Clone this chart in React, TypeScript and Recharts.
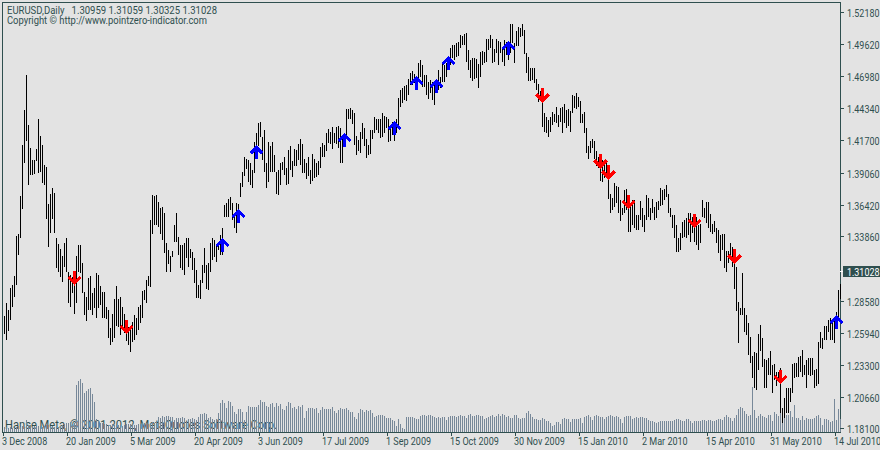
import React from "react";
import { ComposedChart, Bar, Line, XAxis, YAxis } from "recharts";

const FRAME = "#2F4F4F";
const BG = "#E3E3E3";
const VOL = "#778899";
const FONT = "Roboto, sans-serif";

// EURUSD daily, 3 Dec 2008 - 14 Jul 2010
const highs = [
  1.2741,1.2847,1.2790,1.2970,1.2995,1.3069,1.3396,1.3412,1.3724,1.4141,
  1.4428,1.4715,1.4305,1.4116,1.4019,1.4019,1.4108,1.4354,1.4215,1.4141,
  1.3978,1.3962,1.3658,1.3740,1.3789,1.3748,1.3379,1.3330,1.3289,1.3233,
  1.3338,1.3379,1.3102,1.3077,1.3061,1.3102,1.3233,1.3322,1.3322,1.3175,
  1.2938,1.2897,1.3052,1.3069,1.2929,1.2970,1.3093,1.3077,1.2987,1.2938,
  1.2938,1.2815,1.2790,1.2642,1.2757,1.2880,1.2987,1.2880,1.2897,1.2815,
  1.2757,1.2700,1.2651,1.2651,1.2692,1.2749,1.2724,1.2815,1.2831,1.2946,
  1.2954,1.3036,1.3069,1.3527,1.3732,1.3724,1.3732,1.3675,1.3625,1.3634,
  1.3584,1.3338,1.3282,1.3233,1.3274,1.3486,1.3584,1.3388,1.3322,1.3322,
  1.3338,1.3379,1.3379,1.3289,1.3266,1.3216,1.3118,1.2995,1.3036,1.3159,
  1.3298,1.3159,1.3175,1.3338,1.3379,1.3363,1.3322,1.3347,1.3404,1.3462,
  1.3650,1.3666,1.3699,1.3716,1.3666,1.3552,1.3666,1.3658,1.3830,1.3921,
  1.4043,1.4027,1.4019,1.3994,1.3937,1.4166,1.4239,1.4321,1.4330,1.4207,
  1.4264,1.3994,1.4166,1.4133,1.4166,1.4060,1.3921,1.3937,1.3994,1.4002,
  1.4043,1.3953,1.4101,1.4133,1.4011,1.4108,1.4101,1.4149,1.4190,1.4149,
  1.4027,1.3994,1.4043,1.3937,1.4068,1.4027,1.3994,1.4011,1.4125,1.4157,
  1.4141,1.4239,1.4272,1.4248,1.4289,1.4239,1.4289,1.4297,1.4280,1.4223,
  1.4239,1.4436,1.4436,1.4445,1.4428,1.4403,1.4215,1.4182,1.4248,1.4321,
  1.4280,1.4190,1.4141,1.4264,1.4264,1.4371,1.4354,1.4354,1.4354,1.4403,
  1.4379,1.4371,1.4354,1.4297,1.4330,1.4297,1.4354,1.4526,1.4592,1.4608,
  1.4625,1.4633,1.4682,1.4731,1.4748,1.4723,1.4707,1.4813,1.4838,1.4797,
  1.4715,1.4715,1.4658,1.4674,1.4658,1.4633,1.4674,1.4756,1.4699,1.4805,
  1.4797,1.4813,1.4862,1.4936,1.4961,1.4961,1.4977,1.4985,1.5042,1.5034,
  1.5050,1.5059,1.4920,1.4838,1.4854,1.4854,1.4846,1.4805,1.4903,1.4911,
  1.4903,1.5010,1.5010,1.5042,1.5010,1.4928,1.5010,1.4993,1.4985,1.4944,
  1.5001,1.4985,1.4977,1.5132,1.5132,1.4977,1.5075,1.5108,1.5100,1.5132,
  1.5083,1.4895,1.4862,1.4772,1.4772,1.4772,1.4682,1.4641,1.4584,1.4551,
  1.4403,1.4371,1.4346,1.4371,1.4412,1.4395,1.4453,1.4387,1.4445,1.4453,
  1.4477,1.4428,1.4436,1.4420,1.4551,1.4543,1.4567,1.4535,1.4502,1.4395,
  1.4412,1.4280,1.4133,1.4174,1.4190,1.4174,1.4092,1.4043,1.3994,1.4019,
  1.3978,1.4019,1.3880,1.3740,1.3707,1.3830,1.3806,1.3797,1.3691,1.3625,
  1.3773,1.3781,1.3707,1.3666,1.3691,1.3691,1.3568,1.3568,1.3683,1.3625,
  1.3568,1.3732,1.3707,1.3625,1.3699,1.3634,1.3675,1.3683,1.3789,1.3773,
  1.3781,1.3814,1.3740,1.3625,1.3568,1.3568,1.3486,1.3379,1.3420,1.3511,
  1.3527,1.3544,1.3584,1.3584,1.3552,1.3527,1.3552,1.3486,1.3494,1.3691,
  1.3625,1.3675,1.3675,1.3576,1.3494,1.3519,1.3462,1.3445,1.3404,1.3412,
  1.3412,1.3274,1.3274,1.3338,1.3306,1.3216,1.3143,1.2856,1.2806,1.3093,
  1.2806,1.2749,1.2683,1.2568,1.2414,1.2447,1.2438,1.2593,1.2667,1.2560,
  1.2389,1.2381,1.2397,1.2455,1.2340,1.2348,1.2282,1.2282,1.2315,1.1987,
  1.2069,1.2151,1.2151,1.2151,1.2348,1.2356,1.2356,1.2406,1.2414,1.2463,
  1.2340,1.2381,1.2397,1.2397,1.2397,1.2299,1.2307,1.2528,1.2610,1.2560,
  1.2659,1.2659,1.2708,1.2724,1.2708,1.2708,1.2773,1.2954,1.3003,
];

const lows = [
  1.2593,1.2544,1.2618,1.2708,1.2815,1.2897,1.2995,1.3241,1.3379,1.3617,
  1.3994,1.4174,1.3814,1.3896,1.3896,1.3904,1.4011,1.3912,1.3921,1.3830,
  1.3814,1.3535,1.3306,1.3420,1.3535,1.3420,1.3134,1.3102,1.3061,1.3020,
  1.3143,1.3102,1.2847,1.2815,1.2929,1.2757,1.2847,1.3102,1.3093,1.2929,
  1.2749,1.2700,1.2790,1.2790,1.2749,1.2806,1.2724,1.2806,1.2831,1.2724,
  1.2724,1.2716,1.2560,1.2503,1.2528,1.2560,1.2659,1.2651,1.2585,1.2642,
  1.2601,1.2536,1.2503,1.2447,1.2528,1.2544,1.2585,1.2626,1.2683,1.2724,
  1.2872,1.2847,1.2987,1.2979,1.3412,1.3486,1.3486,1.3470,1.3412,1.3363,
  1.3257,1.3102,1.3167,1.3102,1.3224,1.3347,1.3347,1.3241,1.3134,1.3118,
  1.3077,1.3216,1.3143,1.3216,1.3118,1.3011,1.2888,1.2888,1.2880,1.3011,
  1.3093,1.2962,1.2954,1.3102,1.3200,1.3224,1.3184,1.3282,1.3241,1.3241,
  1.3552,1.3552,1.3552,1.3609,1.3527,1.3462,1.3420,1.3568,1.3716,1.3797,
  1.3888,1.3945,1.3838,1.3814,1.3789,1.3912,1.4101,1.4133,1.4207,1.4019,
  1.3921,1.3789,1.3838,1.3921,1.3921,1.3921,1.3740,1.3732,1.3814,1.3937,
  1.3896,1.3814,1.3822,1.3937,1.3880,1.3970,1.3970,1.4019,1.3978,1.3912,
  1.3912,1.3863,1.3888,1.3822,1.3847,1.3871,1.3880,1.3896,1.3953,1.4043,
  1.4043,1.4092,1.4157,1.4149,1.4108,1.4157,1.4149,1.4116,1.3994,1.3994,
  1.4125,1.4198,1.4354,1.4354,1.4313,1.4141,1.4060,1.4092,1.4076,1.4190,
  1.4133,1.4035,1.4060,1.4068,1.4190,1.4239,1.4264,1.4239,1.4198,1.4207,
  1.4239,1.4280,1.4166,1.4174,1.4223,1.4174,1.4239,1.4305,1.4453,1.4486,
  1.4510,1.4502,1.4551,1.4633,1.4633,1.4649,1.4608,1.4658,1.4699,1.4617,
  1.4617,1.4551,1.4518,1.4567,1.4510,1.4469,1.4567,1.4592,1.4608,1.4658,
  1.4658,1.4699,1.4756,1.4797,1.4854,1.4838,1.4862,1.4870,1.4936,1.4961,
  1.4961,1.4821,1.4756,1.4690,1.4666,1.4682,1.4690,1.4608,1.4699,1.4797,
  1.4813,1.4821,1.4920,1.4936,1.4813,1.4821,1.4895,1.4797,1.4895,1.4821,
  1.4789,1.4879,1.4838,1.4895,1.4977,1.4813,1.4952,1.4952,1.5026,1.5034,
  1.4887,1.4731,1.4666,1.4666,1.4674,1.4649,1.4592,1.4494,1.4502,1.4289,
  1.4248,1.4239,1.4207,1.4248,1.4305,1.4330,1.4321,1.4289,1.4330,1.4239,
  1.4321,1.4280,1.4297,1.4248,1.4403,1.4445,1.4436,1.4453,1.4321,1.4321,
  1.4239,1.4076,1.4027,1.4076,1.4116,1.4027,1.3970,1.3953,1.3847,1.3838,
  1.3871,1.3880,1.3699,1.3584,1.3609,1.3634,1.3666,1.3584,1.3519,1.3568,
  1.3584,1.3609,1.3429,1.3429,1.3486,1.3462,1.3445,1.3445,1.3527,1.3470,
  1.3429,1.3527,1.3552,1.3527,1.3584,1.3527,1.3544,1.3609,1.3642,1.3650,
  1.3691,1.3716,1.3584,1.3552,1.3462,1.3379,1.3266,1.3266,1.3282,1.3379,
  1.3388,1.3379,1.3404,1.3347,1.3420,1.3347,1.3322,1.3282,1.3338,1.3552,
  1.3544,1.3503,1.3462,1.3429,1.3412,1.3429,1.3338,1.3257,1.3192,1.3282,
  1.3134,1.3102,1.3175,1.3200,1.3143,1.2962,1.2782,1.2520,1.2749,1.2749,
  1.2610,1.2585,1.2422,1.2356,1.2234,1.2151,1.2135,1.2299,1.2455,1.2323,
  1.2151,1.2151,1.2258,1.2258,1.2110,1.2217,1.2168,1.2201,1.1947,1.1864,
  1.1905,1.1947,1.1947,1.2037,1.2110,1.2234,1.2242,1.2242,1.2282,1.2242,
  1.2258,1.2151,1.2258,1.2250,1.2258,1.2151,1.2168,1.2184,1.2479,1.2471,
  1.2544,1.2544,1.2610,1.2544,1.2544,1.2520,1.2642,1.2700,1.2880,
];

const volumes = [
  5,5,4,5,4,4,5,6,5,6,5,12,7,7,6,6,6,6,6,5,6,7,7,6,6,5,6,5,6,7,8,9,9,10,8,9,
  47,51,53,49,39,41,43,44,38,30,13,
  12,9,9,8,8,7,7,8,7,7,7,7,6,7,8,8,8,8,7,7,8,8,9,9,9,8,9,10,9,11,
  15,14,16,15,16,16,15,15,12,14,14,14,15,14,10,13,13,14,13,12,15,18,18,19,18,14,15,13,12,13,19,
  29,32,29,24,31,30,26,20,18,23,23,20,12,20,26,25,25,25,25,27,32,30,30,26,25,28,29,25,29,26,28,23,22,26,30,29,
  24,25,23,26,25,27,14,21,24,24,
  24,23,24,19,22,25,23,23,23,23,
  25,21,19,22,24,23,23,24,22,20,
  20,15,13,19,23,22,20,22,21,22,
  19,15,16,17,17,17,16,14,14,14,
  12,11,6,13,8,4,3,15,15,15,
  15,14,13,13,16,17,17,16,17,17,
  16,15,14,15,14,15,15,12,15,16,
  16,16,15,16,17,16,16,14,17,18,
  16,16,17,17,16,16,13,14,15,16,
  17,15,16,18,16,18,17,15,16,14,
  14,17,17,14,13,14,14,19,21,18,
  15,13,13,12,12,14,13,11,11,9,
  6,7,10,10,8,13,14,13,13,10,
  13,13,13,13,14,
  9,15,16,17,15,12,16,17,16,15,
  15,13,15,16,17,16,15,16,15,13,
  9,15,16,16,16,13,14,15,14,15,
  15,14,14,12,11,11,10,9,10,11,
  11,11,11,11,11,11,12,13,13,12,
  11,11,13,13,11,9,11,11,11,11,
  12,12,11,12,12,11,11,12,13,13,
  12,15,17,15,14,11,14,17,23,25,
  24,21,18,16,17,45,22,14,16,18,
  16,15,14,17,17,11,20,18,16,22,
  15,14,17,17,21,15,27,14,14,12,
  16,12,14,13,13,13,14,16,17,14,
  7,13,13,12,10,11,33,12,23,13,
];

const buyBars = [109, 117, 126, 170, 195, 206, 216, 222, 252, 416];
const buyPrices = [1.3322, 1.356, 1.408, 1.4182, 1.4277, 1.4649, 1.4625, 1.4813, 1.4936, 1.2692];
const sellBars = [35, 61, 269, 298, 302, 312, 345, 365, 388];
const sellPrices = [1.3048, 1.2647, 1.4547, 1.4006, 1.3916, 1.3671, 1.3519, 1.3228, 1.2237];

const dateTicks = [0, 32, 64, 96, 128, 160, 192, 224, 256, 288, 320, 352, 384, 416];
const dateLabels = [
  "3 Dec 2008", "20 Jan 2009", "5 Mar 2009", "20 Apr 2009", "3 Jun 2009", "17 Jul 2009", "1 Sep 2009",
  "15 Oct 2009", "30 Nov 2009", "15 Jan 2010", "2 Mar 2010", "15 Apr 2010", "31 May 2010", "14 Jul 2010",
];
const priceTicks = [
  1.5218, 1.4962, 1.4698, 1.4434, 1.417, 1.3906, 1.3642, 1.3386, 1.31028, 1.2858, 1.2594, 1.233, 1.2066, 1.181,
];
const LAST_PRICE = 1.31028;

const data = highs.map((h, i) => ({
  idx: i,
  range: [lows[i], h],
  vol: volumes[i] ?? 0,
  buy: buyBars.includes(i) ? buyPrices[buyBars.indexOf(i)] : null,
  sell: sellBars.includes(i) ? sellPrices[sellBars.indexOf(i)] : null,
}));

const UpArrow = (p: any) => {
  if (p.value == null) return <g key={p.index} />;
  const { cx, cy } = p;
  return (
    <g key={p.index} shapeRendering="crispEdges">
      <rect x={cx - 1} y={cy - 5} width={3} height={12} fill="#0000FF" />
      <path
        d={`M${cx - 5.5} ${cy + 1} L${cx + 0.5} ${cy - 5} L${cx + 6.5} ${cy + 1}`}
        fill="none"
        stroke="#0000FF"
        strokeWidth={3}
      />
    </g>
  );
};

const DownArrow = (p: any) => {
  if (p.value == null) return <g key={p.index} />;
  const { cx, cy } = p;
  return (
    <g key={p.index} shapeRendering="crispEdges">
      <rect x={cx - 1} y={cy - 7} width={3} height={12} fill="#FF0000" />
      <path
        d={`M${cx - 5.5} ${cy - 1} L${cx + 0.5} ${cy + 5} L${cx + 6.5} ${cy - 1}`}
        fill="none"
        stroke="#FF0000"
        strokeWidth={3}
      />
    </g>
  );
};

const DateTick = (p: any) => {
  const k = dateTicks.indexOf(p.payload.value);
  return (
    <g>
      <line x1={p.x - 0.5} x2={p.x - 0.5} y1={432} y2={436} stroke={FRAME} />
      <g transform={`translate(${p.x - 2} 445) scale(0.86 1)`}>
        <text fontFamily={FONT} fontSize={10.5} fill={FRAME}>
          {dateLabels[k]}
        </text>
      </g>
    </g>
  );
};

const PriceTick = (p: any) => {
  const v = p.payload.value;
  const last = v === LAST_PRICE;
  const y = Math.round(p.y);
  return (
    <g>
      <line x1={840} x2={844} y1={y - 0.5} y2={y - 0.5} stroke={last ? "#FFFFFF" : FRAME} />
      {last && <rect x={843} y={y - 6} width={37} height={11} fill={FRAME} />}
      <g transform={`translate(847 ${y + 4}) scale(0.85 1)`}>
        <text fontFamily={FONT} fontSize={10.5} fill={last ? "#FFFFFF" : FRAME}>
          {v.toFixed(5)}
        </text>
      </g>
    </g>
  );
};

export default function App() {
  return (
    <div style={{ position: "fixed", left: 0, top: 0, width: 880, height: 450, background: BG }}>
      <ComposedChart width={880} height={450} data={data} margin={{ top: 3, right: 0, bottom: 0, left: 3 }}>
        <XAxis
          xAxisId="px"
          dataKey="idx"
          type="category"
          height={18}
          ticks={dateTicks}
          interval={0}
          axisLine={false}
          tickLine={false}
          tick={DateTick}
        />
        <XAxis xAxisId="vx" dataKey="idx" type="category" hide />
        <YAxis
          yAxisId="py"
          orientation="right"
          type="number"
          width={39}
          domain={[1.17895, 1.5304]}
          ticks={priceTicks}
          interval={0}
          axisLine={false}
          tickLine={false}
          tick={PriceTick}
        />
        <YAxis yAxisId="vy" type="number" domain={[0, 429]} hide />
        <Bar
          xAxisId="vx"
          yAxisId="vy"
          dataKey="vol"
          barSize={1}
          fill={VOL}
          shapeRendering="crispEdges"
          isAnimationActive={false}
        />
        <Bar
          xAxisId="px"
          yAxisId="py"
          dataKey="range"
          barSize={1}
          fill="#000000"
          shapeRendering="crispEdges"
          isAnimationActive={false}
        />
        <Line
          xAxisId="px"
          yAxisId="py"
          dataKey="buy"
          stroke="none"
          dot={UpArrow}
          activeDot={false}
          isAnimationActive={false}
        />
        <Line
          xAxisId="px"
          yAxisId="py"
          dataKey="sell"
          stroke="none"
          dot={DownArrow}
          activeDot={false}
          isAnimationActive={false}
        />
        <rect x={2.5} y={2.5} width={838} height={430} fill="none" stroke={FRAME} />
        <text
          x={7}
          y={14}
          fontFamily={FONT}
          fontSize={10}
          fill={FRAME}
          textLength={210}
          lengthAdjust="spacingAndGlyphs"
          style={{ whiteSpace: "pre" }}
        >
          {"EURUSD,Daily   1.30959 1.31059 1.30325 1.31028"}
        </text>
        <text
          x={7}
          y={24}
          fontFamily={FONT}
          fontSize={10}
          fill={FRAME}
          textLength={200}
          lengthAdjust="spacingAndGlyphs"
        >
          Copyright © http://www.pointzero-indicator.com
        </text>
        <text
          x={5}
          y={429}
          fontFamily={FONT}
          fontSize={12}
          fill={FRAME}
          textLength={272}
          lengthAdjust="spacingAndGlyphs"
        >
          Hanse Meta, © 2001-2012, MetaQuotes Software Corp.
        </text>
      </ComposedChart>
    </div>
  );
}
